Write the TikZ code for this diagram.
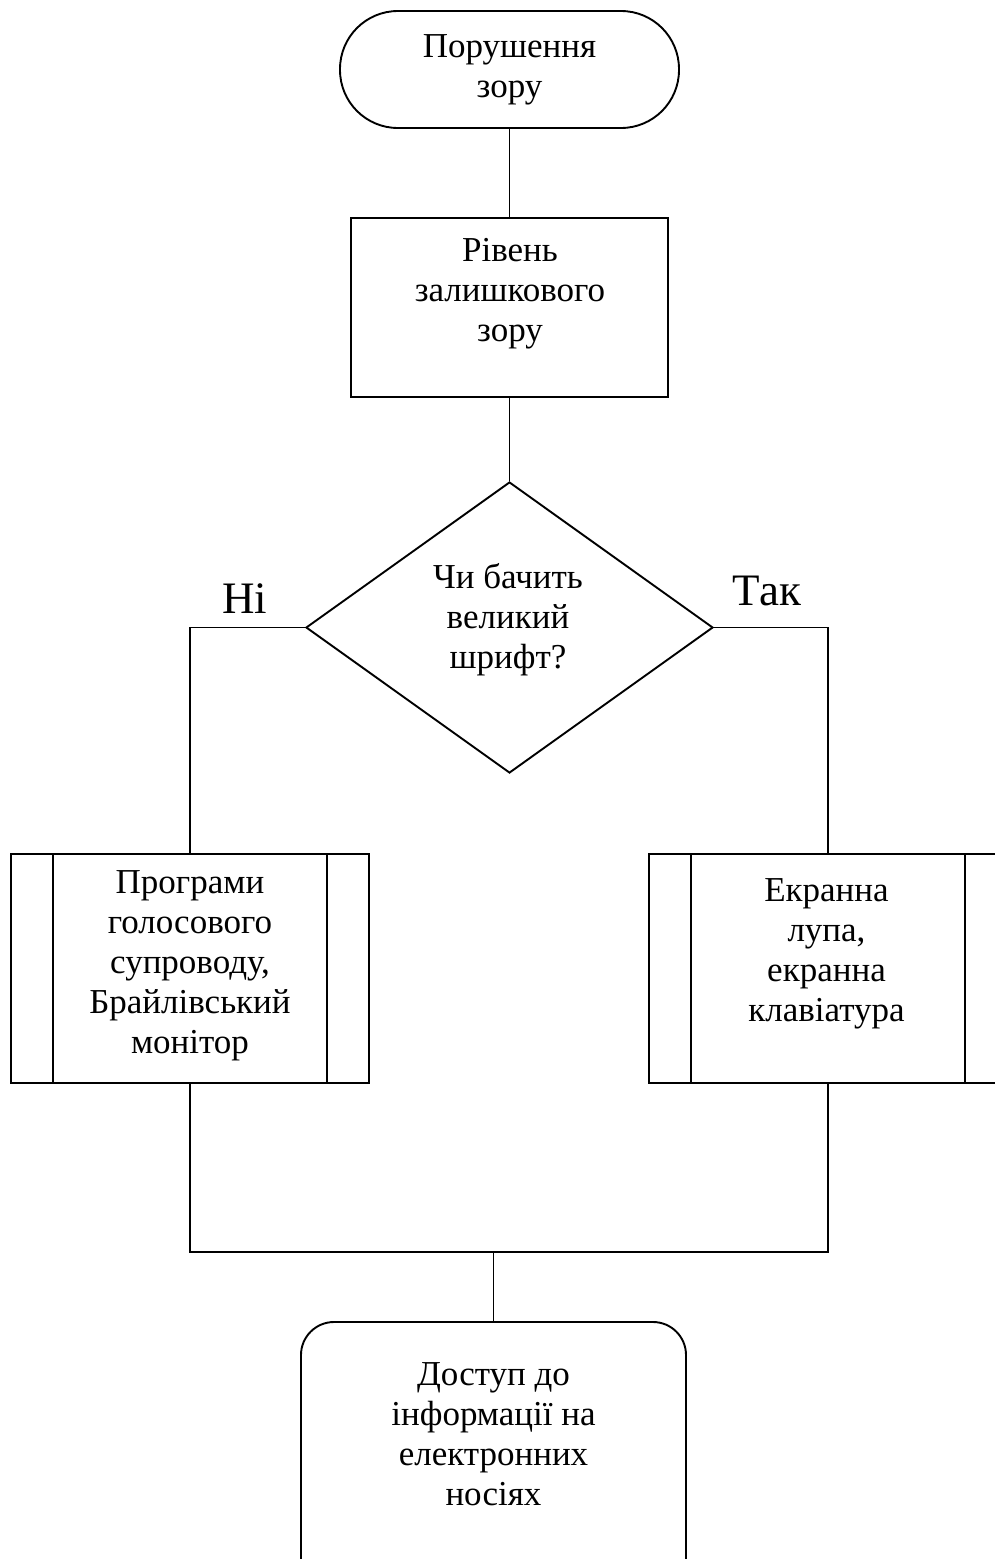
\documentclass[tikz,border=0pt]{standalone}
\usepackage{fontspec}
\setmainfont{Liberation Serif}
\usetikzlibrary{shapes.geometric}
\begin{document}
\begin{tikzpicture}[x=1pt,y=-1pt,line width=1.9pt,
  txt/.style={font=\fontsize{35}{40}\selectfont,align=center,inner sep=0pt},
  lbl/.style={font=\fontsize{45}{50}\selectfont,inner sep=0pt,anchor=base},
  shapebox/.style 2 args={draw,inner sep=0pt,minimum width=#1,minimum height=#2},
  terminal/.style={shapebox={339pt}{117pt},rounded corners=58pt},
  procbox/.style={shapebox={317pt}{179pt}},
  predef/.style={shapebox={358pt}{229pt}},
  decision/.style={draw,diamond,inner sep=0pt,minimum width=407pt,minimum height=291pt},
  endbox/.style={shapebox={385pt}{270pt},rounded corners=33pt}]
\clip (0,0) rectangle (995,1559);
\fill[white] (0,0) rectangle (995,1559);

% shapes
\node[terminal,txt] (start) at (509.5,69.5) {Порушення\\зору};
\node[procbox] (level) at (509.5,307.5) {};
\node[decision] (check) at (509.5,627.5) {};
\node[predef] (voice) at (190,968.5) {};
\node[predef] (magnifier) at (828,968.5) {};
\node[endbox] (access) at (493.5,1457) {};

% side bars of the predefined-process boxes
\draw ([xshift=43pt]voice.north west) -- ([xshift=43pt]voice.south west);
\draw ([xshift=-43pt]voice.north east) -- ([xshift=-43pt]voice.south east);
\draw ([xshift=43pt]magnifier.north west) -- ([xshift=43pt]magnifier.south west);
\draw ([xshift=-43pt]magnifier.north east) -- ([xshift=-43pt]magnifier.south east);

% texts
\node[txt] (levelText) at (510,294) {Рівень\\залишкового\\зору};
\node[txt] (checkText) at (508,620) {Чи бачить\\великий\\шрифт?};
\node[txt] (voiceText) at (190,966) {Програми\\голосового\\супроводу,\\Брайлівський\\монітор};
\node[txt] (magnifierText) at (826.5,954) {Екранна\\лупа,\\екранна\\клавіатура};
\node[txt] (accessText) at (493.5,1434) {Доступ до\\інформації на\\електронних\\носіях};

% branch labels
\node[lbl] (no) at (245,613) {Ні};
\node[lbl] (yes) at (767,605) {Так};

% connectors
\draw (start.south) -- (level.north);
\draw (level.south) -- (check.north);
\draw (check.west) -| (voice.north);
\draw (check.east) -| (magnifier.north);
\coordinate (join) at (493.5,1252);
\draw (voice.south) -- (voice.south |- join) -- (magnifier.south |- join) -- (magnifier.south);
\draw (join) -- (access.north);
\end{tikzpicture}
\end{document}
